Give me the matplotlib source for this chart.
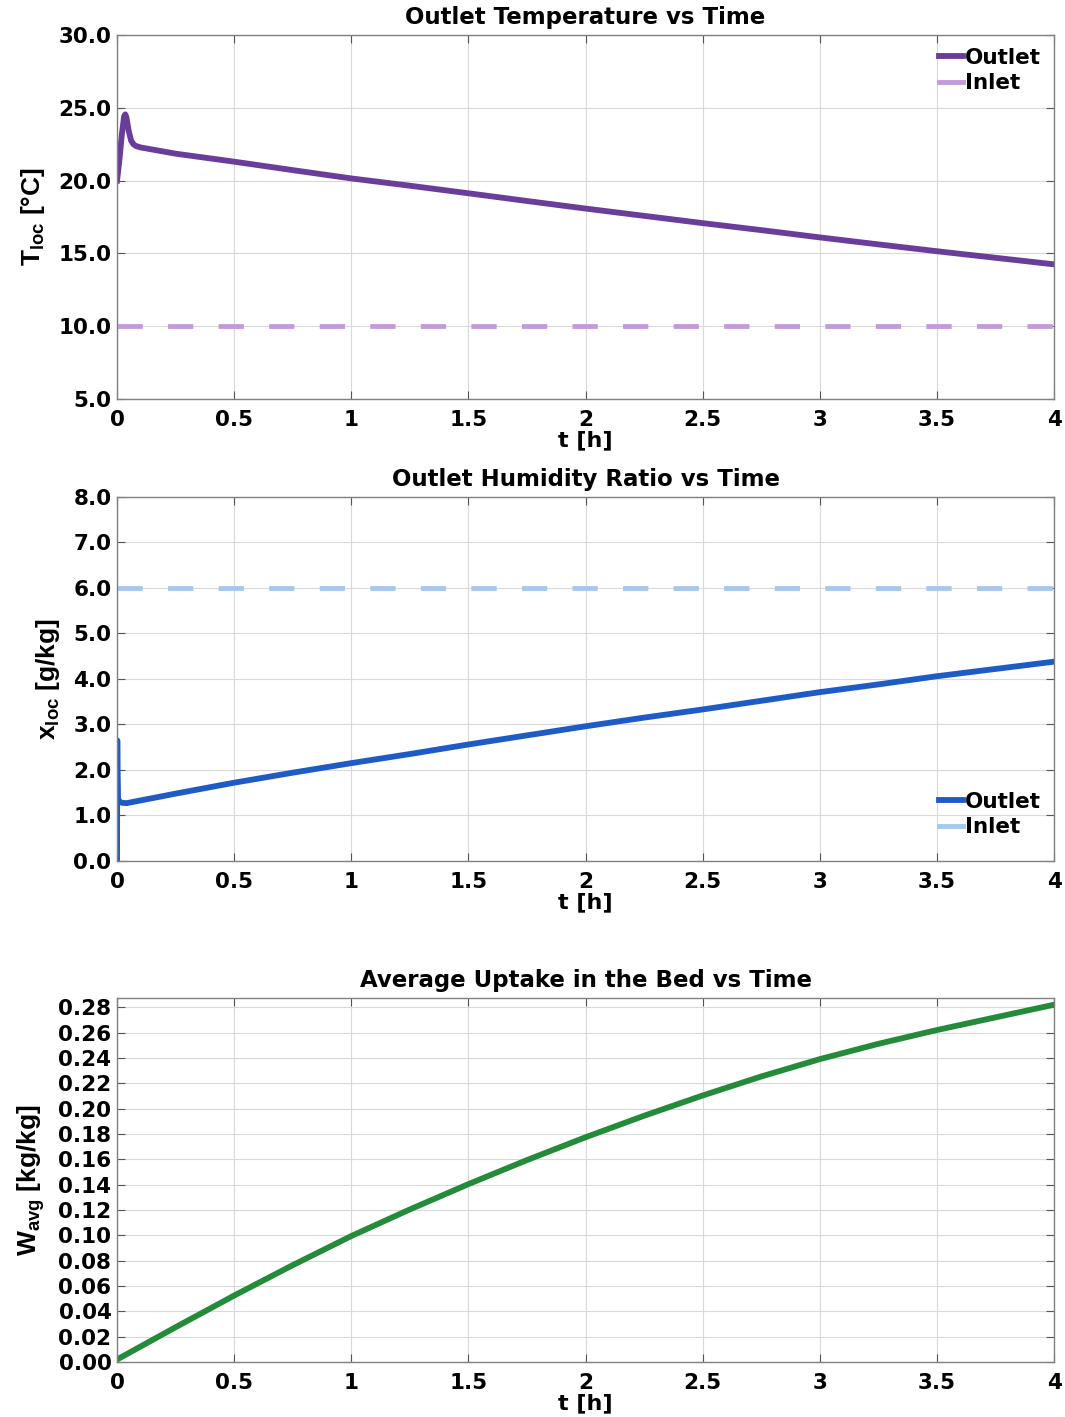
import numpy as np
import matplotlib
matplotlib.use("Agg")
import matplotlib.pyplot as plt

plt.rcParams['font.family'] = ['DejaVu Sans']
plt.rcParams['mathtext.fontset'] = 'custom'
plt.rcParams['mathtext.rm'] = 'Liberation Sans'
plt.rcParams['mathtext.it'] = 'Liberation Sans'
plt.rcParams['mathtext.bf'] = 'Liberation Sans:bold'

# ---- data ----
t_temp = [0.0, 0.01, 0.02, 0.03, 0.035, 0.04, 0.05, 0.06, 0.07, 0.08, 0.1,
          0.25, 0.5, 0.75, 1.0, 1.25, 1.5, 1.75, 2.0, 2.25, 2.5, 2.75,
          3.0, 3.25, 3.5, 3.75, 4.0]
T_out = [20.0, 21.4, 23.1, 24.4, 24.55, 24.35, 23.4, 22.75, 22.5, 22.38, 22.28,
         21.85, 21.3, 20.72, 20.15, 19.65, 19.13, 18.6, 18.08, 17.58, 17.08, 16.6,
         16.1, 15.62, 15.15, 14.7, 14.25]
T_in = 10.0

t_hum = [0.0, 0.0005, 0.001, 0.002, 0.004, 0.008, 0.02, 0.04, 0.06, 0.1,
         0.25, 0.5, 0.75, 1.0, 1.25, 1.5, 1.75, 2.0, 2.25, 2.5, 2.75,
         3.0, 3.25, 3.5, 3.75, 4.0]
x_out = [0.0, 1.5, 2.65, 2.0, 1.4, 1.3, 1.28, 1.27, 1.29, 1.33,
         1.48, 1.72, 1.94, 2.15, 2.35, 2.56, 2.76, 2.96, 3.15, 3.33, 3.52,
         3.71, 3.88, 4.06, 4.22, 4.38]
x_in = 6.0

t_w = [0.0, 0.25, 0.5, 0.75, 1.0, 1.25, 1.5, 1.75, 2.0, 2.25, 2.5, 2.75,
       3.0, 3.25, 3.5, 3.75, 4.0]
W_avg = [0.002, 0.0275, 0.0525, 0.0765, 0.0995, 0.1205, 0.1405, 0.1595, 0.1775,
         0.1945, 0.2105, 0.2255, 0.2392, 0.2513, 0.2622, 0.2722, 0.2822]

purple = '#6a3d9a'
purple_l = '#c39bdd'
blue = '#1f5bc6'
blue_l = '#a6c8ee'
green = '#238b3a'

fig = plt.figure(figsize=(10.65, 14.17), dpi=100)
left, width, height = 0.1099, 0.8798, 0.2569
ax1 = fig.add_axes([left, 0.7184, width, height])
ax2 = fig.add_axes([left, 0.3924, width, height])
ax3 = fig.add_axes([left, 0.0388, width, height])

ylab_font = dict(fontsize=19, fontweight='bold', family='Liberation Sans')


def style(ax, title, ylabel):
    ax.set_xlim(0, 4)
    ax.set_xticks([0, 0.5, 1, 1.5, 2, 2.5, 3, 3.5, 4])
    ax.set_xticklabels(['0', '0.5', '1', '1.5', '2', '2.5', '3', '3.5', '4'])
    ax.grid(True, color='#d9d9d9', linewidth=0.8)
    ax.set_axisbelow(True)
    ax.tick_params(direction='in', length=6, width=0.8, color='#555555',
                   top=True, right=True, labelsize=15.5)
    ax.tick_params(axis='x', pad=8)
    ax.tick_params(axis='y', pad=4)
    for lab in ax.get_xticklabels() + ax.get_yticklabels():
        lab.set_fontweight('bold')
    for s in ax.spines.values():
        s.set_color('#808080')
        s.set_linewidth(1.0)
    ax.set_title(title, fontsize=16.5, fontweight='bold', pad=8)
    ax.set_xlabel('t [h]', fontsize=16, fontweight='bold', labelpad=0)
    ax.set_ylabel(ylabel, **ylab_font, labelpad=8)


# temperature
ax1.plot(t_temp, T_out, color=purple, lw=4.2, label='Outlet')
ax1.axhline(T_in, color=purple_l, lw=3.5, dashes=(5.2, 5.2), label='Inlet')
ax1.set_ylim(5, 30)
ax1.set_yticks(np.arange(5, 30.1, 5))
ax1.set_yticklabels([f'{v:.1f}' for v in np.arange(5, 30.1, 5)])
style(ax1, 'Outlet Temperature vs Time', r'T$_{\mathbf{loc}}$ [°C]')
leg1 = ax1.legend(loc='upper right', frameon=False, handlelength=1.1, handletextpad=0.1,
                  labelspacing=0.25, borderaxespad=0.2,
                  prop=dict(size=15.5, weight='bold'))
for h in leg1.get_lines():
    h.set_linestyle('-')

# humidity
ax2.plot(t_hum, x_out, color=blue, lw=4.2, label='Outlet')
ax2.axhline(x_in, color=blue_l, lw=3.5, dashes=(5.2, 5.2), label='Inlet')
ax2.set_ylim(0, 8)
ax2.set_yticks(np.arange(0, 8.1, 1))
ax2.set_yticklabels([f'{v:.1f}' for v in np.arange(0, 8.1, 1)])
style(ax2, 'Outlet Humidity Ratio vs Time', r'x$_{\mathbf{loc}}$ [g/kg]')
leg2 = ax2.legend(loc='lower right', frameon=False, handlelength=1.1, handletextpad=0.1,
                  labelspacing=0.25, borderaxespad=0.2, bbox_to_anchor=(1, 0.03),
                  prop=dict(size=15.5, weight='bold'))
for h in leg2.get_lines():
    h.set_linestyle('-')

# uptake
ax3.plot(t_w, W_avg, color=green, lw=4.2)
ax3.set_ylim(0, 0.2875)
yt = np.arange(0, 0.281, 0.02)
ax3.set_yticks(yt)
ax3.set_yticklabels([f'{v:.2f}' for v in yt])
style(ax3, 'Average Uptake in the Bed vs Time', r'W$_{\mathbf{avg}}$ [kg/kg]')

fig.savefig('out.png', dpi=100)
